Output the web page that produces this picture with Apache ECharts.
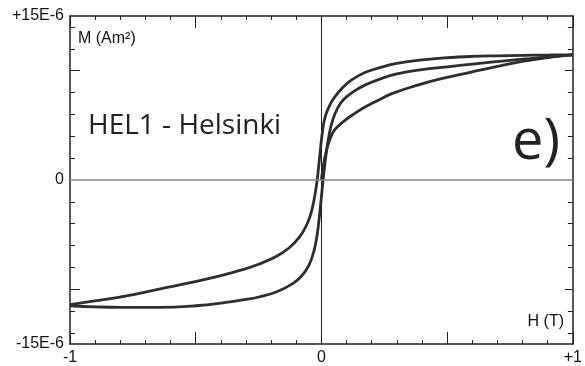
<!DOCTYPE html>
<html><head><meta charset="utf-8">
<script src="https://cdn.jsdelivr.net/npm/echarts@6/dist/echarts.min.js"></script>
<style>html,body{margin:0;padding:0;background:#fff}#c{width:585px;height:366px}</style>
</head><body><div id="c"></div>
<script>
// Field H (T) and moment M (1E-6 Am²)
const descH = [1.0, 0.9, 0.8, 0.7, 0.6, 0.5, 0.4, 0.3, 0.24, 0.175, 0.12, 0.082, 0.05, 0.03, 0.015, 0.005, -0.005, -0.017, -0.03, -0.045, -0.065, -0.09, -0.128, -0.18, -0.25, -0.314, -0.4, -0.512, -0.65, -0.775, -0.9, -1.0];
const descM = [11.45, 11.43, 11.4, 11.36, 11.3, 11.18, 10.98, 10.66, 10.33, 9.85, 9.15, 8.4, 7.5, 6.7, 5.8, 4.6, 2.6, 0, -1.9, -3.3, -4.4, -5.3, -6.2, -7.0, -7.7, -8.2, -8.75, -9.35, -10.0, -10.6, -11.05, -11.4];
const ascH = [-1.0, -0.9, -0.8, -0.65, -0.5, -0.38, -0.3, -0.248, -0.18, -0.116, -0.08, -0.05, -0.03, -0.017, -0.008, 0.0, 0.008, 0.02, 0.032, 0.045, 0.065, 0.09, 0.135, 0.18, 0.24, 0.3, 0.386, 0.5, 0.62, 0.75, 0.85, 0.95, 1.0];
const ascM = [-11.5, -11.6, -11.65, -11.65, -11.5, -11.2, -10.92, -10.7, -10.25, -9.5, -8.8, -7.8, -6.5, -5.0, -3.3, -1.5, 0.3, 2.6, 4.3, 5.5, 6.6, 7.4, 8.2, 8.75, 9.3, 9.7, 10.05, 10.35, 10.65, 10.95, 11.15, 11.35, 11.45];
const initH = [0.0, 0.005, 0.012, 0.022, 0.035, 0.05, 0.07, 0.096, 0.13, 0.175, 0.23, 0.28, 0.386, 0.465, 0.6, 0.7, 0.8, 0.914, 1.0];
const initM = [0, 0.9, 1.9, 2.9, 3.8, 4.5, 5.0, 5.5, 6.05, 6.7, 7.35, 7.9, 8.7, 9.2, 9.9, 10.4, 10.85, 11.25, 11.45];

const xLabelValues = [-1, 0, 1];
const xLabelTexts = ['-1', '0', '+1'];
const yLabelValues = [-15, 0, 15];
const yLabelTexts = ['-15E-6', '0', '+15E-6'];
const yMajorTicks = [-10, 10];
const yMinorTicks = [-14, -12, -8, -6, -4, -2, 2, 4, 6, 8, 12, 14];

const zip = (a, b) => a.map((v, i) => [v, b[i]]);
const INK = '#222';
const FONT = '"Liberation Sans", Arial, sans-serif';

function xAxisDef(pos, showLabel) {
  return {
    type: 'value', position: pos, min: -1, max: 1, interval: 0.5,
    axisLine: { show: true, onZero: false, lineStyle: { color: INK, width: 1.5 } },
    axisTick: { show: true, inside: true, length: 12, lineStyle: { color: INK, width: 1 } },
    minorTick: { show: true, splitNumber: 5, length: 4, lineStyle: { color: INK, width: 1 } },
    splitLine: { show: false },
    axisLabel: {
      show: showLabel, customValues: xLabelValues, margin: 6,
      formatter: v => xLabelTexts[xLabelValues.indexOf(Math.round(v))],
      fontSize: 16, color: '#111', fontFamily: FONT
    }
  };
}
function yAxisDef(pos, ticks, len, showLine, showLabel) {
  return {
    type: 'value', position: pos, min: -15, max: 15,
    axisLine: { show: showLine, onZero: false, lineStyle: { color: INK, width: 1.5 } },
    axisTick: { show: true, inside: true, customValues: ticks, length: len, lineStyle: { color: INK, width: 1 } },
    splitLine: { show: false },
    axisLabel: {
      show: showLabel, customValues: yLabelValues, margin: 6,
      formatter: v => yLabelTexts[yLabelValues.indexOf(Math.round(v))],
      fontSize: 16, color: '#111', fontFamily: FONT
    }
  };
}

const lineStyle = { color: '#2e2e2e', width: 2.8 };
const base = { type: 'line', showSymbol: false, smooth: 0.45, lineStyle, xAxisIndex: 0, yAxisIndex: 0, silent: true };

const chart = echarts.init(document.getElementById('c'));
chart.setOption({
  animation: false,
  backgroundColor: '#fff',
  grid: { left: 70, right: 10, top: 16, bottom: 22 },
  xAxis: [xAxisDef('bottom', true), xAxisDef('top', false)],
  yAxis: [
    yAxisDef('left', yMajorTicks, 10, true, true),
    yAxisDef('left', yMinorTicks, 5, false, false),
    yAxisDef('right', yMajorTicks, 8, true, false),
    yAxisDef('right', yMinorTicks, 5, false, false)
  ],
  series: [
    Object.assign({}, base, {
      data: zip(descH, descM),
      markLine: {
        silent: true, symbol: ['none', 'none'], label: { show: false },
        data: [
          { xAxis: 0, lineStyle: { color: '#222', width: 1, type: 'solid' } },
          { yAxis: 0, lineStyle: { color: '#888', width: 1.5, type: 'solid' } }
        ]
      }
    }),
    Object.assign({}, base, { data: zip(ascH, ascM) }),
    Object.assign({}, base, { data: zip(initH, initM) })
  ],
  graphic: [
    { type: 'text', x: 78, y: 39, style: { text: 'M (Am²)', font: '16px ' + FONT, fill: '#111', verticalAlign: 'middle' } },
    { type: 'text', x: 564, y: 322, style: { text: 'H (T)', font: '16px ' + FONT, fill: '#111', align: 'right', verticalAlign: 'middle' } },
    { type: 'text', x: 88, y: 126, style: { text: 'HEL1 - Helsinki', font: '28px "Open Sans", sans-serif', fill: '#222', verticalAlign: 'middle' } },
    { type: 'text', x: 560, y: 143, style: { text: 'e)', font: '56px "Open Sans", sans-serif', fill: '#222', align: 'right', verticalAlign: 'middle' } }
  ]
});
</script></body></html>
